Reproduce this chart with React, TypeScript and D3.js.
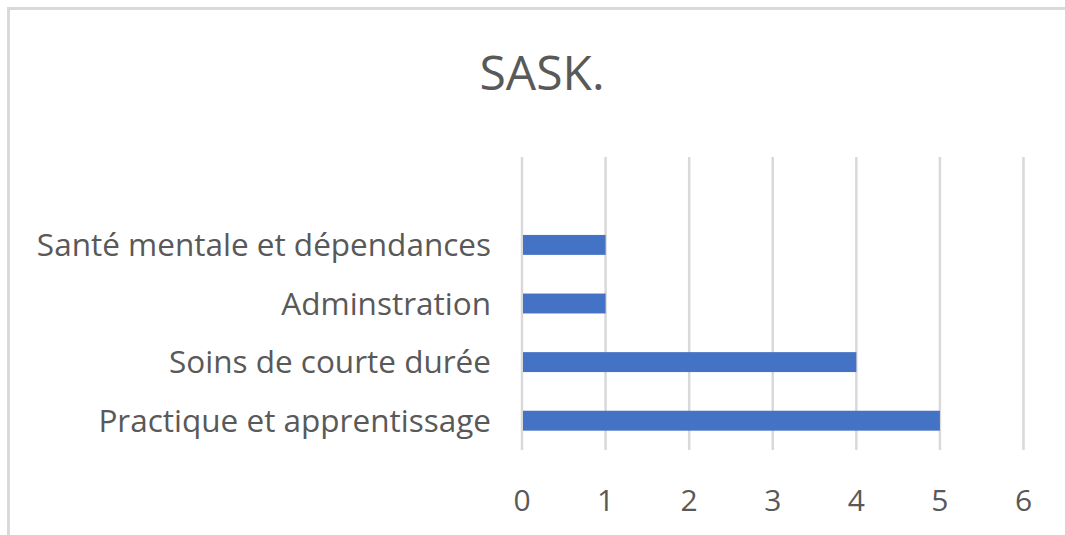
import React from "react";
import { scaleLinear, scaleBand } from "d3";

const title = "SASK.";
// top slot is empty in the original chart
const categories = [
  "",
  "Santé mentale et dépendances",
  "Adminstration",
  "Soins de courte durée",
  "Practique et apprentissage",
];
const values = [null, 1, 1, 4, 5];
const ticks = [0, 1, 2, 3, 4, 5, 6];

const W = 1065;
const H = 535;
const font = "'Open Sans', Calibri, sans-serif";
const textCol = "#595959";
const gridCol = "#d9d9d9";

function App() {
  const x = scaleLinear().domain([0, 6]).range([522, 1023.5]);
  const y = scaleBand().domain(categories).range([157, 450]).paddingInner(0.66).paddingOuter(0.33);

  return (
    <svg width={W} height={H} style={{ position: "absolute", left: 0, top: 0 }}>
      <rect x={0} y={0} width={W} height={H} fill="#fff" />
      <rect x={8.5} y={8.5} width={W + 20} height={H + 20} fill="none" stroke={gridCol} strokeWidth={3} />
      <text x={542} y={90} textAnchor="middle" fontFamily={font} fontSize={48} fill={textCol}>
        {title}
      </text>
      {ticks.map((t) => (
        <line key={t} x1={x(t)} x2={x(t)} y1={157} y2={450} stroke={gridCol} strokeWidth={2.5} />
      ))}
      {categories.map((c, i) =>
        values[i] == null ? null : (
          <rect key={c} x={x(0) + 1} y={y(c)} width={x(values[i] as number) - x(0) - 1} height={y.bandwidth()} fill="#4472c4" />
        )
      )}
      {categories.map((c) => (
        <text key={c} x={491} y={(y(c) as number) + y.bandwidth() / 2} dy="0.36em" textAnchor="end" fontFamily={font} fontSize={31.5} fill={textCol}>
          {c}
        </text>
      ))}
      {ticks.map((t) => (
        <text key={t} x={x(t)} y={511} textAnchor="middle" fontFamily={font} fontSize={30} fill={textCol}>
          {t}
        </text>
      ))}
    </svg>
  );
}

export default App;
